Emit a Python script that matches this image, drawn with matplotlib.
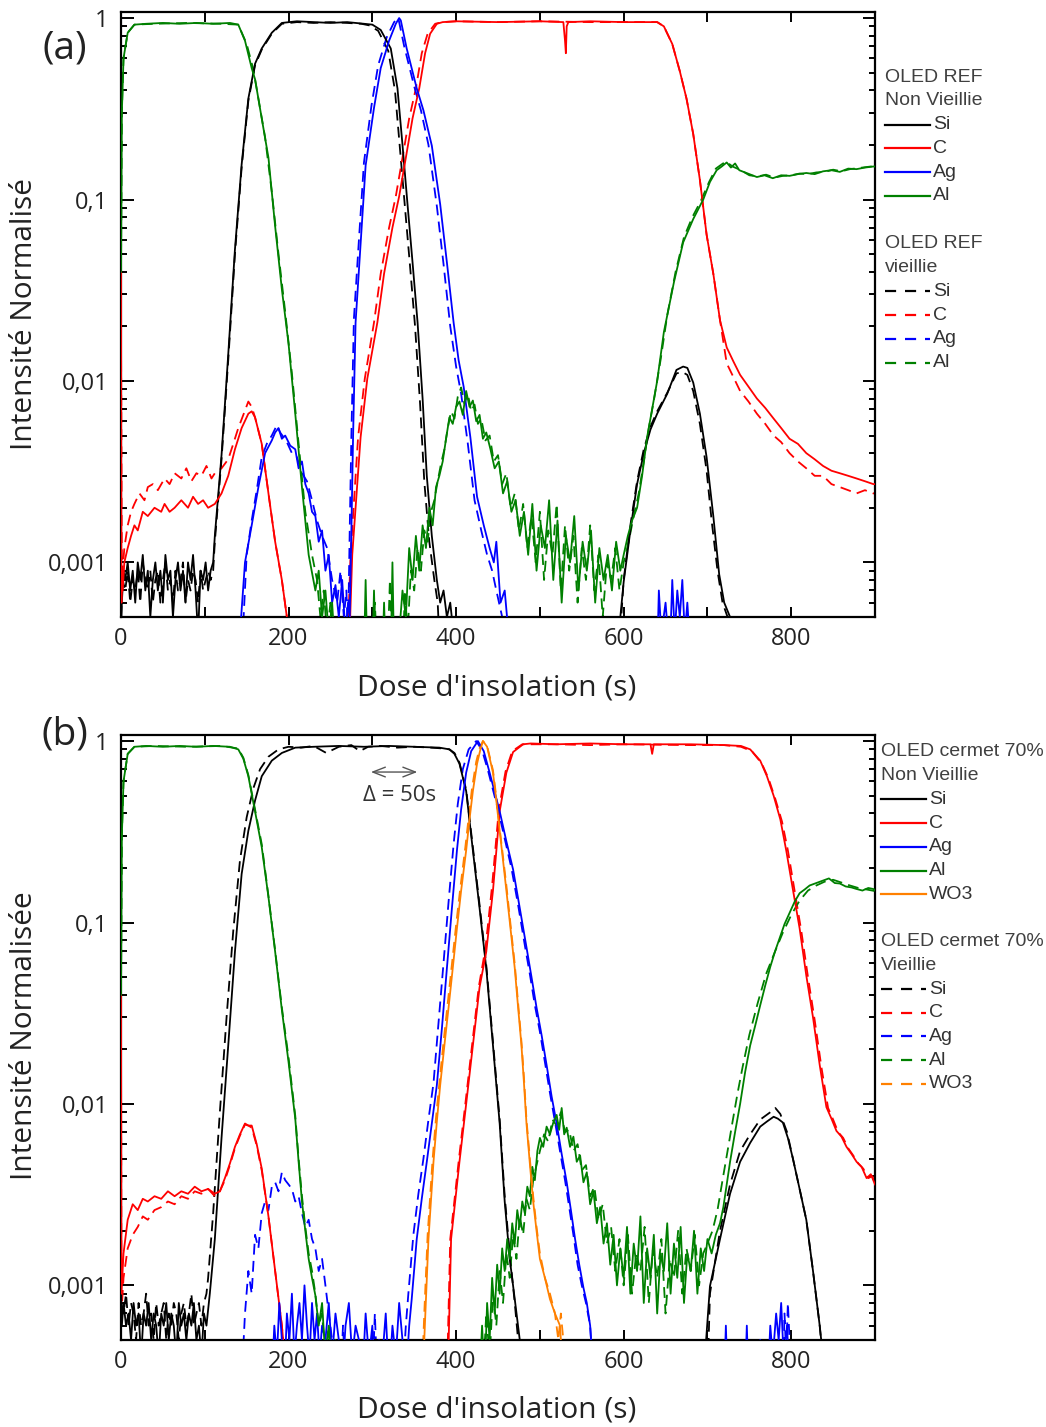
import matplotlib
matplotlib.use("Agg")
import matplotlib.pyplot as plt
from matplotlib.lines import Line2D
from matplotlib.ticker import FixedLocator, FixedFormatter, LogLocator, NullFormatter, MultipleLocator, FuncFormatter

# ---------------- Panel (a) : OLED REF ----------------
a_si_x = [0, 1, 3, 5, 8, 11, 14, 17, 20, 23, 26, 29, 32, 35, 38, 41, 44, 47, 50, 53, 56, 59, 62, 65, 68, 71, 74, 77, 80, 83, 86, 89, 92, 95, 98, 101, 104, 107, 110, 112, 120, 128, 136, 144, 152, 160, 168, 180, 192, 210, 230, 250, 270, 290, 300, 310, 322, 330, 336, 342, 348, 354, 360, 365, 371, 377, 381, 385, 389, 393, 397, 400,
          594, 600, 608, 616, 624, 632, 640, 652, 663, 671, 676, 683, 691, 699, 707, 714, 720, 727, 732, 900]
a_si_y = [0.0004, 0.0006, 0.0009, 0.0008, 0.0010, 0.0007, 0.0009, 0.0006, 0.0010, 0.0008, 0.0011, 0.0007, 0.0009, 0.0005, 0.0008, 0.0010, 0.0007, 0.0009, 0.0006, 0.0011, 0.0008, 0.0009, 0.0005, 0.0008, 0.0010, 0.0007, 0.0009, 0.0006, 0.0010, 0.0008, 0.0011, 0.0007, 0.0004, 0.0009, 0.0008, 0.0010, 0.0007, 0.0009, 0.0010, 0.0014, 0.0039, 0.014, 0.053, 0.156, 0.36, 0.56, 0.68, 0.83, 0.94, 0.96, 0.95, 0.94, 0.95, 0.93, 0.92, 0.86, 0.68, 0.41, 0.20, 0.094, 0.045, 0.021, 0.008, 0.003, 0.0014, 0.0008, 0.0006, 0.0007, 0.0005, 0.0006, 0.0004, 0.0003,
          0.0004, 0.00078, 0.0015, 0.0027, 0.004, 0.0054, 0.0066, 0.0085, 0.0115, 0.012, 0.0118, 0.0098, 0.0066, 0.0038, 0.0018, 0.00086, 0.0006, 0.0005, 0.0003, 0.0003]
a_si_d_x = [0, 2, 5, 8, 11, 14, 17, 20, 23, 26, 29, 32, 35, 38, 41, 44, 47, 50, 53, 56, 59, 62, 65, 68, 71, 74, 77, 80, 83, 86, 89, 92, 95, 98, 101, 104, 107, 110, 112, 120, 128, 136, 144, 152, 160, 168, 180, 192, 210, 230, 250, 270, 287, 297, 307, 319, 327, 333, 339, 345, 351, 357, 362, 368, 374, 378, 381,
            594, 600, 608, 616, 624, 632, 640, 652, 663, 670, 676, 683, 691, 699, 705, 712, 718, 724, 730, 900]
a_si_d_y = [0.0005, 0.0008, 0.0007, 0.0009, 0.0006, 0.0008, 0.0007, 0.0009, 0.0006, 0.0010, 0.0008, 0.0007, 0.0009, 0.0006, 0.0008, 0.0009, 0.0006, 0.0008, 0.0010, 0.0007, 0.0008, 0.0006, 0.0009, 0.0007, 0.0008, 0.0010, 0.0006, 0.0008, 0.0007, 0.0009, 0.0008, 0.0006, 0.0009, 0.0007, 0.0008, 0.0009, 0.0008, 0.0009, 0.0013, 0.0037, 0.013, 0.05, 0.15, 0.35, 0.55, 0.67, 0.82, 0.93, 0.95, 0.94, 0.95, 0.94, 0.93, 0.91, 0.85, 0.66, 0.40, 0.19, 0.09, 0.043, 0.020, 0.0075, 0.0028, 0.0013, 0.0008, 0.0006, 0.0003,
            0.0003, 0.0008, 0.0016, 0.0028, 0.0042, 0.0056, 0.0068, 0.0086, 0.011, 0.0112, 0.0108, 0.0088, 0.0058, 0.0032, 0.0017, 0.0009, 0.0006, 0.0005, 0.0003, 0.0003]

a_c_x = [0, 0.5, 1, 2, 4, 8, 12, 16, 20, 26, 32, 40, 48, 52, 58, 64, 72, 80, 86, 92, 98, 104, 112, 120, 128, 136, 144, 152, 156, 160, 168, 176, 184, 192, 198, 200,
         272, 276, 286, 294, 306, 314, 324, 332, 340, 348, 356, 363, 369, 377, 384, 400, 450, 500, 528, 530, 531, 532, 534, 560, 600, 640, 648, 658, 667, 675, 683, 691, 699, 707, 715, 723, 731, 739, 749, 759, 769, 779, 788, 798, 808, 818, 828, 838, 848, 858, 868, 878, 888, 898, 900]
a_c_y = [0.04, 0.0006, 0.0009, 0.0007, 0.0010, 0.0012, 0.0014, 0.0016, 0.0015, 0.0019, 0.0018, 0.0020, 0.0019, 0.0021, 0.0019, 0.0020, 0.0022, 0.0020, 0.0023, 0.0021, 0.0022, 0.0020, 0.0021, 0.0024, 0.0030, 0.0042, 0.0055, 0.0066, 0.0068, 0.0063, 0.0045, 0.0024, 0.0013, 0.0008, 0.0005, 0.0003,
         0.0003, 0.0011, 0.0049, 0.0103, 0.021, 0.039, 0.07, 0.104, 0.17, 0.28, 0.41, 0.64, 0.82, 0.93, 0.95, 0.96, 0.95, 0.96, 0.95, 0.75, 0.64, 0.90, 0.95, 0.96, 0.95, 0.95, 0.90, 0.72, 0.51, 0.36, 0.23, 0.128, 0.064, 0.039, 0.0216, 0.0153, 0.0128, 0.0108, 0.0093, 0.0080, 0.0071, 0.0062, 0.0055, 0.0048, 0.0045, 0.0040, 0.0037, 0.0034, 0.0032, 0.0031, 0.0030, 0.0029, 0.0028, 0.0027, 0.0027]
a_c_d_x = [0, 1, 4, 8, 12, 16, 22, 28, 32, 38, 44, 52, 58, 64, 72, 78, 84, 90, 96, 102, 108, 112, 120, 128, 134, 140, 146, 152, 156, 160, 168, 176, 184, 192, 198, 200,
           270, 274, 283, 291, 302, 310, 320, 328, 336, 344, 352, 359, 366, 375, 384, 400, 450, 500, 560, 600, 640, 648, 658, 667, 675, 683, 691, 699, 707, 715, 723, 731, 739, 749, 759, 769, 779, 788, 798, 808, 818, 828, 838, 848, 858, 868, 878, 888, 898, 900]
a_c_d_y = [0.02, 0.0008, 0.0012, 0.0016, 0.0019, 0.0021, 0.0024, 0.0022, 0.0026, 0.0027, 0.0025, 0.0029, 0.0027, 0.0031, 0.0029, 0.0033, 0.0028, 0.0031, 0.0030, 0.0034, 0.0029, 0.0031, 0.0033, 0.0037, 0.0045, 0.0055, 0.0065, 0.0077, 0.0072, 0.0063, 0.0045, 0.0024, 0.0013, 0.0008, 0.0005, 0.0003,
           0.0003, 0.0011, 0.0049, 0.0103, 0.021, 0.039, 0.07, 0.104, 0.17, 0.28, 0.41, 0.64, 0.82, 0.93, 0.95, 0.96, 0.95, 0.96, 0.95, 0.95, 0.95, 0.90, 0.72, 0.51, 0.36, 0.23, 0.128, 0.064, 0.039, 0.0216, 0.0125, 0.0105, 0.0088, 0.0077, 0.0066, 0.0058, 0.0050, 0.0046, 0.0040, 0.0036, 0.0033, 0.0030, 0.0030, 0.0027, 0.0026, 0.0025, 0.0024, 0.0025, 0.0024, 0.0024]

a_ag_x = [140, 148, 156, 164, 172, 180, 184, 188, 192, 196, 202, 208, 212, 216, 220, 224, 228, 232, 236, 240, 244, 248, 252, 256, 260, 264, 268, 271, 273, 275, 277, 280, 286, 292, 302, 310, 320, 328, 332, 334, 341, 353, 361, 371, 381, 389, 397, 403, 409, 417, 425, 433, 440, 445, 448, 453, 458, 465,
          640, 642, 645, 650, 655, 658, 661, 664, 667, 670, 673, 676, 680]
a_ag_y = [0.0003, 0.0010, 0.0016, 0.0026, 0.0040, 0.0047, 0.0052, 0.0055, 0.0048, 0.0050, 0.0044, 0.0042, 0.0033, 0.0036, 0.0027, 0.0024, 0.0019, 0.0018, 0.0013, 0.0015, 0.0009, 0.0011, 0.0006, 0.00075, 0.0005, 0.0008, 0.0004, 0.0006, 0.0005, 0.0015, 0.0049, 0.021, 0.057, 0.154, 0.32, 0.53, 0.75, 0.93, 1.0, 0.97, 0.68, 0.41, 0.31, 0.198, 0.094, 0.045, 0.021, 0.013, 0.0093, 0.0049, 0.0023, 0.0016, 0.0012, 0.0010, 0.0013, 0.0006, 0.0007, 0.0003,
          0.0003, 0.0007, 0.0004, 0.0006, 0.0003, 0.0008, 0.0004, 0.0007, 0.0005, 0.0008, 0.0004, 0.0006, 0.0003]
a_ag_d_x = [144, 150, 156, 162, 168, 174, 180, 186, 190, 194, 198, 204, 210, 216, 222, 228, 234, 240, 246, 252, 258, 262, 266, 269, 271, 273, 275, 278, 284, 290, 299, 307, 317, 326, 331, 338, 350, 358, 367, 377, 385, 393, 400, 406, 414, 422, 430, 437, 443, 448, 455, 462]
a_ag_d_y = [0.0003, 0.0011, 0.0017, 0.0025, 0.0038, 0.0045, 0.0050, 0.0057, 0.0052, 0.0049, 0.0046, 0.0040, 0.0038, 0.0031, 0.0028, 0.0022, 0.0017, 0.0014, 0.0012, 0.0008, 0.0006, 0.0009, 0.0005, 0.0007, 0.0004, 0.0015, 0.005, 0.022, 0.06, 0.16, 0.33, 0.55, 0.78, 0.95, 1.0, 0.70, 0.42, 0.31, 0.20, 0.092, 0.044, 0.020, 0.012, 0.0085, 0.0045, 0.0022, 0.0015, 0.0011, 0.0009, 0.0007, 0.0005, 0.0003]

a_al_x = [0, 1, 3, 8, 16, 30, 50, 70, 90, 110, 130, 140, 148, 156, 160, 168, 176, 184, 192, 200, 208, 216, 224, 232, 236, 240, 244, 248, 252, 256, 260,
          290, 292, 294, 300, 302, 304, 312, 314, 316, 322, 324, 326, 332, 336, 340, 344, 348, 352, 356, 360, 364, 368, 372, 376, 380, 384, 388, 392, 396, 400, 404, 408, 412, 416, 420, 424, 428, 432, 436, 441, 446, 451, 456, 461, 466, 471, 476, 481, 486, 491, 496, 501, 506, 511, 516, 521, 526, 531, 536, 541, 546, 551, 556, 561, 566, 571, 576, 581, 586, 591, 596,
          600, 605, 610, 616, 622, 628, 634, 640, 648, 660, 671, 683, 695, 703, 711, 717, 723, 728, 733, 738, 743, 750, 759, 768, 778, 788, 798, 808, 818, 828, 838, 848, 858, 868, 878, 888, 898, 900]
a_al_y = [0.04, 0.3, 0.6, 0.83, 0.92, 0.93, 0.94, 0.93, 0.94, 0.93, 0.94, 0.92, 0.75, 0.53, 0.46, 0.28, 0.17, 0.071, 0.032, 0.016, 0.0066, 0.0026, 0.0011, 0.0007, 0.0009, 0.0005, 0.0007, 0.0004, 0.0006, 0.0003, 0.0003,
          0.0003, 0.0008, 0.0003, 0.0003, 0.0007, 0.0003, 0.0003, 0.0006, 0.0003, 0.0003, 0.0010, 0.0003, 0.0004, 0.0007, 0.0005, 0.0012, 0.0008, 0.0014, 0.0009, 0.0016, 0.0012, 0.0020, 0.0016, 0.0026, 0.0030, 0.0036, 0.0048, 0.0063, 0.0058, 0.0072, 0.0077, 0.0065, 0.0088, 0.0072, 0.0078, 0.0060, 0.0065, 0.0048, 0.0052, 0.0042, 0.0033, 0.0036, 0.0024, 0.0028, 0.0019, 0.0022, 0.0014, 0.0019, 0.0011, 0.0021, 0.0009, 0.0016, 0.0012, 0.0022, 0.0008, 0.0017, 0.0006, 0.0014, 0.0010, 0.0018, 0.0007, 0.0013, 0.0009, 0.0015, 0.0006, 0.0012, 0.0008, 0.0011, 0.0007, 0.0013, 0.0009,
          0.0011, 0.0014, 0.0017, 0.0020, 0.0030, 0.0049, 0.0070, 0.010, 0.0186, 0.035, 0.058, 0.078, 0.10, 0.125, 0.145, 0.152, 0.16, 0.15, 0.158, 0.145, 0.142, 0.138, 0.133, 0.136, 0.131, 0.136, 0.135, 0.138, 0.140, 0.138, 0.143, 0.145, 0.142, 0.148, 0.147, 0.150, 0.152, 0.152]
a_al_d_x = [0, 1, 3, 8, 16, 40, 80, 120, 140, 150, 158, 164, 172, 180, 188, 196, 204, 212, 220, 228, 234, 238, 242, 246, 250, 254, 258, 262,
            300, 303, 306, 318, 321, 324, 336, 339, 342, 346, 350, 354, 358, 362, 366, 370, 374, 378, 382, 386, 390, 394, 398, 402, 406, 410, 414, 418, 422, 426, 430, 435, 440, 445, 450, 455, 460, 465, 470, 475, 480, 485, 490, 495, 500, 505, 510, 515, 520, 525, 530, 535, 540, 545, 550, 555, 560, 565, 570, 575, 580, 585, 590, 595,
            600, 606, 612, 618, 624, 630, 636, 644, 652, 662, 672, 682, 692, 702, 710, 716, 722, 730, 740, 750, 760, 770, 780, 790, 800, 810, 820, 830, 840, 850, 860, 870, 880, 890, 900]
a_al_d_y = [0.04, 0.3, 0.6, 0.83, 0.92, 0.93, 0.94, 0.93, 0.92, 0.72, 0.52, 0.36, 0.22, 0.11, 0.05, 0.024, 0.011, 0.0045, 0.0019, 0.0011, 0.0008, 0.0005, 0.0007, 0.0004, 0.0006, 0.0003, 0.0005, 0.0003,
            0.0003, 0.0006, 0.0003, 0.0003, 0.0008, 0.0003, 0.0003, 0.0007, 0.0004, 0.0009, 0.0007, 0.0012, 0.0009, 0.0015, 0.0013, 0.0019, 0.0022, 0.0028, 0.0035, 0.0042, 0.0055, 0.0068, 0.0062, 0.0082, 0.0092, 0.0075, 0.0085, 0.0068, 0.0074, 0.0058, 0.0062, 0.0047, 0.0050, 0.0036, 0.0039, 0.0027, 0.0031, 0.0020, 0.0024, 0.0015, 0.0021, 0.0012, 0.0018, 0.0010, 0.0019, 0.0008, 0.0015, 0.0011, 0.0021, 0.0007, 0.0016, 0.0009, 0.0014, 0.0006, 0.0012, 0.0008, 0.0016, 0.0007, 0.0011, 0.0005, 0.0010, 0.0008, 0.0012, 0.0007,
            0.0010, 0.0013, 0.0018, 0.0024, 0.0036, 0.0055, 0.0078, 0.013, 0.023, 0.040, 0.062, 0.080, 0.098, 0.125, 0.148, 0.155, 0.162, 0.152, 0.145, 0.136, 0.134, 0.137, 0.132, 0.135, 0.136, 0.139, 0.138, 0.141, 0.142, 0.146, 0.143, 0.147, 0.149, 0.151, 0.153]

# ---------------- Panel (b) : OLED cermet 70% ----------------
b_si_x = [0, 1, 3, 6, 9, 12, 15, 18, 21, 24, 27, 30, 33, 36, 39, 42, 45, 48, 51, 54, 57, 60, 63, 66, 69, 72, 75, 78, 81, 84, 87, 90, 93, 96, 99, 102, 106, 112, 120, 128, 136, 144, 152, 160, 168, 180, 192, 208, 230, 260, 290, 320, 350, 380, 392, 398, 404, 412, 420, 428, 436, 444, 452, 458, 464, 470, 476, 480,
          695, 703, 715, 727, 739, 751, 763, 771, 779, 784, 790, 796, 802, 810, 818, 826, 834, 838, 900]
b_si_y = [0.0009, 0.0006, 0.0008, 0.0006, 0.0007, 0.0005, 0.0008, 0.0006, 0.0007, 0.0004, 0.0007, 0.0006, 0.0008, 0.0005, 0.0007, 0.0006, 0.0004, 0.0007, 0.0006, 0.0008, 0.0005, 0.0007, 0.0006, 0.0004, 0.0008, 0.0006, 0.0007, 0.0005, 0.0007, 0.0006, 0.0008, 0.0005, 0.0006, 0.0004, 0.0007, 0.0006, 0.0009, 0.0018, 0.0065, 0.021, 0.069, 0.185, 0.32, 0.47, 0.64, 0.78, 0.86, 0.92, 0.93, 0.94, 0.93, 0.94, 0.93, 0.92, 0.90, 0.85, 0.75, 0.53, 0.25, 0.12, 0.056, 0.021, 0.0078, 0.0029, 0.0014, 0.00084, 0.0005, 0.0003,
          0.0003, 0.00099, 0.0018, 0.0032, 0.0048, 0.0061, 0.0075, 0.0080, 0.0085, 0.0083, 0.0079, 0.0065, 0.0050, 0.0034, 0.0023, 0.0012, 0.0006, 0.0004, 0.0003]
b_si_d_x = [0, 3, 6, 9, 12, 15, 18, 21, 24, 27, 30, 33, 36, 39, 42, 45, 48, 51, 54, 57, 60, 63, 66, 69, 72, 75, 78, 81, 84, 87, 90, 93, 96, 99, 102, 104, 110, 118, 126, 134, 142, 150, 158, 166, 176, 188, 200, 215, 230, 245, 260, 275, 285, 295, 310, 330, 350, 370, 385, 392, 398, 404, 412, 420, 428, 436, 444, 452, 458, 464, 470, 474, 478,
            700, 703, 715, 727, 739, 751, 763, 775, 781, 787, 795, 802, 810, 818, 826, 834, 840, 900]
b_si_d_y = [0.0008, 0.0007, 0.0009, 0.0006, 0.0008, 0.0007, 0.0005, 0.0008, 0.0006, 0.0007, 0.0009, 0.0006, 0.0007, 0.0005, 0.0008, 0.0006, 0.0007, 0.0008, 0.0005, 0.0007, 0.0006, 0.0008, 0.0007, 0.0005, 0.0007, 0.0008, 0.0006, 0.0007, 0.0009, 0.0006, 0.0007, 0.0008, 0.0006, 0.0008, 0.0009, 0.0011, 0.0025, 0.009, 0.03, 0.09, 0.22, 0.38, 0.55, 0.70, 0.82, 0.90, 0.93, 0.92, 0.94, 0.86, 0.93, 0.95, 0.88, 0.93, 0.94, 0.92, 0.93, 0.92, 0.91, 0.90, 0.86, 0.76, 0.54, 0.26, 0.125, 0.058, 0.022, 0.0082, 0.0031, 0.0015, 0.0008, 0.0005, 0.0003,
            0.0003, 0.0009, 0.0020, 0.0036, 0.0055, 0.0068, 0.0082, 0.0090, 0.0095, 0.0088, 0.0070, 0.0050, 0.0034, 0.0023, 0.0012, 0.0006, 0.0003, 0.0003]

b_c_x = [0, 0.5, 3, 8, 14, 20, 26, 32, 40, 48, 56, 64, 72, 80, 88, 96, 104, 112, 118, 124, 130, 136, 142, 148, 152, 156, 162, 168, 176, 184, 192, 198,
         390, 394, 404, 412, 420, 428, 436, 444, 452, 460, 468, 480, 489, 520, 560, 600, 632, 634, 636, 680, 720, 740, 751, 763, 771, 779, 787, 794, 802, 810, 818, 826, 834, 842, 848, 854, 860, 866, 872, 878, 884, 890, 895, 900]
b_c_y = [0.04, 0.0009, 0.0015, 0.0023, 0.0028, 0.0026, 0.0030, 0.0029, 0.0031, 0.0030, 0.0033, 0.0031, 0.0033, 0.0032, 0.0035, 0.0033, 0.0034, 0.0032, 0.0033, 0.0039, 0.0047, 0.0058, 0.0068, 0.0078, 0.0076, 0.0076, 0.0060, 0.0044, 0.0024, 0.0012, 0.0006, 0.0003,
         0.0003, 0.0018, 0.0048, 0.010, 0.021, 0.044, 0.069, 0.15, 0.41, 0.67, 0.87, 0.96, 0.97, 0.96, 0.97, 0.96, 0.96, 0.85, 0.96, 0.96, 0.95, 0.94, 0.90, 0.78, 0.64, 0.50, 0.37, 0.25, 0.152, 0.093, 0.051, 0.030, 0.0164, 0.0096, 0.0083, 0.0071, 0.0066, 0.0058, 0.0053, 0.0048, 0.0045, 0.0039, 0.0041, 0.0036]
b_c_d_x = [0, 0.5, 3, 8, 14, 20, 26, 32, 40, 48, 56, 64, 72, 80, 88, 96, 104, 112, 118, 124, 130, 136, 142, 148, 152, 156, 162, 168, 176, 184, 192, 198,
           389, 393, 403, 411, 419, 427, 435, 443, 451, 459, 467, 479, 489, 520, 560, 600, 680, 720, 740, 753, 765, 773, 781, 789, 796, 804, 812, 820, 828, 836, 844, 850, 856, 862, 868, 874, 880, 886, 892, 897, 900]
b_c_d_y = [0.03, 0.0007, 0.0011, 0.0016, 0.0019, 0.0021, 0.0024, 0.0023, 0.0026, 0.0027, 0.0029, 0.0028, 0.0031, 0.0030, 0.0033, 0.0032, 0.0034, 0.0031, 0.0033, 0.0038, 0.0046, 0.0057, 0.0067, 0.0077, 0.0076, 0.0074, 0.0059, 0.0043, 0.0024, 0.0012, 0.0006, 0.0003,
           0.0003, 0.0018, 0.0048, 0.010, 0.021, 0.044, 0.072, 0.16, 0.42, 0.68, 0.88, 0.96, 0.96, 0.96, 0.95, 0.96, 0.95, 0.95, 0.93, 0.88, 0.75, 0.62, 0.48, 0.36, 0.25, 0.15, 0.09, 0.05, 0.029, 0.016, 0.0095, 0.0082, 0.0070, 0.0065, 0.0057, 0.0052, 0.0047, 0.0044, 0.0039, 0.0040, 0.0036]

b_ag_x = [180, 183, 186, 189, 192, 195, 198, 201, 204, 207, 210, 213, 216, 219, 222, 225, 228, 231, 234, 237, 240, 244, 248, 252, 256, 260, 264, 268, 272, 276, 280, 284, 288, 292, 296, 300, 304, 308, 312, 316, 320, 324, 328, 332, 336, 340,
          344, 347, 353, 359, 365, 371, 377, 383, 389, 395, 401, 406, 412, 418, 426, 433, 440, 452, 460, 468, 476, 484, 490, 496, 502, 508, 514, 520, 526, 532, 537, 542, 547, 552, 556, 560, 564,
          720, 722, 724, 745, 747, 749, 760, 763, 766, 772, 775, 778, 782, 785, 788, 791, 795, 798]
b_ag_y = [0.0003, 0.0006, 0.0004, 0.0008, 0.0005, 0.0003, 0.0007, 0.0005, 0.0009, 0.0004, 0.0006, 0.0008, 0.0005, 0.0010, 0.0006, 0.0004, 0.0008, 0.0005, 0.0007, 0.0004, 0.0006, 0.0005, 0.0008, 0.0004, 0.0007, 0.0005, 0.0003, 0.0006, 0.0008, 0.0004, 0.0006, 0.0005, 0.0003, 0.0007, 0.0004, 0.0006, 0.0003, 0.0005, 0.0004, 0.0007, 0.0003, 0.0006, 0.0004, 0.0008, 0.0005, 0.0003,
          0.0006, 0.00084, 0.0018, 0.0030, 0.0048, 0.0078, 0.0127, 0.026, 0.056, 0.12, 0.25, 0.42, 0.67, 0.88, 1.0, 0.88, 0.67, 0.41, 0.28, 0.196, 0.12, 0.073, 0.05, 0.034, 0.024, 0.0164, 0.011, 0.0078, 0.0053, 0.0037, 0.0026, 0.0018, 0.0013, 0.00097, 0.0008, 0.0006, 0.0003,
          0.0003, 0.0006, 0.0003, 0.0003, 0.0006, 0.0003, 0.0003, 0.0005, 0.0003, 0.0003, 0.0006, 0.0004, 0.0007, 0.0005, 0.0008, 0.0004, 0.0006, 0.0003]
b_ag_d_x = [144, 148, 152, 156, 160, 164, 168, 172, 176, 180, 184, 188, 192, 196, 200, 204, 208, 212, 216, 220, 224, 228, 232, 236, 240, 244, 248, 252, 256, 262, 265, 268, 280, 283, 286, 300, 303, 306, 320, 323, 326, 336,
            340, 343, 349, 355, 361, 367, 373, 379, 385, 391, 397, 402, 408, 415, 424, 431, 438, 450, 458, 466, 474, 482, 488, 494, 500, 506, 512, 518, 524, 530, 535, 540, 545, 550, 555, 560, 564,
            790, 792, 794, 796, 798, 800]
b_ag_d_y = [0.0003, 0.0007, 0.0012, 0.0009, 0.0019, 0.0016, 0.0025, 0.0029, 0.0026, 0.0035, 0.0037, 0.0033, 0.0042, 0.0038, 0.0036, 0.0034, 0.0029, 0.0031, 0.0025, 0.0021, 0.0023, 0.0018, 0.0016, 0.0012, 0.0014, 0.0010, 0.0007, 0.0005, 0.0003, 0.0003, 0.0006, 0.0003, 0.0003, 0.0005, 0.0003, 0.0003, 0.0007, 0.0003, 0.0003, 0.0005, 0.0003, 0.0003,
            0.0006, 0.0009, 0.0019, 0.0032, 0.0050, 0.0082, 0.013, 0.028, 0.06, 0.13, 0.27, 0.45, 0.70, 0.90, 1.0, 0.89, 0.69, 0.42, 0.29, 0.20, 0.125, 0.075, 0.052, 0.035, 0.025, 0.017, 0.0115, 0.008, 0.0055, 0.0038, 0.0027, 0.0019, 0.0013, 0.001, 0.0008, 0.0006, 0.0003,
            0.0003, 0.0007, 0.0004, 0.0008, 0.0005, 0.0003]

b_al_x = [0, 1, 3, 8, 16, 30, 50, 70, 90, 110, 130, 140, 146, 152, 160, 168, 176, 184, 192, 200, 208, 212, 216, 220, 224, 228, 232, 236, 240, 244, 248, 252, 256, 260,
          428, 431, 434, 437, 440, 443, 446, 449, 452, 455, 458, 461, 464, 467, 470, 473, 476, 479, 482, 485, 488, 491, 494, 497, 500, 504, 508, 512, 516, 520, 523, 526, 529, 532, 536, 540, 544, 548, 552, 556, 560, 564, 568, 572, 576, 580, 584, 588, 592, 596, 600, 604, 608, 612, 616, 620, 624, 628, 632, 636, 640, 644, 648, 652, 656, 660, 664, 668, 672, 676, 680, 684, 688, 692, 696, 700, 705, 710, 715, 719, 723, 727, 733, 739, 745, 751, 757, 763, 769, 775, 781, 787, 792, 798, 804, 810, 816, 822, 830, 838, 845, 852, 858, 865, 872, 878, 885, 892, 898, 900]
b_al_y = [0.04, 0.3, 0.6, 0.85, 0.93, 0.94, 0.93, 0.94, 0.93, 0.94, 0.93, 0.90, 0.80, 0.64, 0.41, 0.26, 0.138, 0.069, 0.033, 0.017, 0.0083, 0.0048, 0.0029, 0.0020, 0.0014, 0.0011, 0.00088, 0.0006, 0.0008, 0.0004, 0.0006, 0.0003, 0.0005, 0.0003,
          0.0003, 0.0006, 0.0003, 0.0008, 0.0005, 0.0011, 0.0007, 0.0013, 0.0009, 0.0016, 0.0012, 0.0018, 0.0014, 0.0022, 0.0017, 0.0026, 0.0021, 0.0029, 0.0025, 0.0035, 0.0031, 0.0045, 0.0038, 0.0055, 0.0065, 0.0058, 0.0075, 0.0068, 0.0079, 0.0087, 0.0072, 0.0095, 0.0068, 0.0074, 0.0058, 0.0066, 0.0048, 0.0052, 0.0037, 0.0042, 0.0028, 0.0033, 0.0022, 0.0027, 0.0017, 0.0022, 0.0013, 0.0019, 0.0010, 0.0016, 0.0011, 0.0021, 0.0009, 0.0017, 0.0012, 0.0024, 0.0008, 0.0016, 0.0011, 0.0019, 0.0007, 0.0015, 0.0012, 0.0022, 0.0009, 0.0017, 0.0011, 0.0021, 0.0008, 0.0015, 0.0012, 0.0020, 0.0009, 0.0016, 0.0012, 0.0018, 0.0015, 0.0019, 0.0022, 0.0027, 0.0036, 0.0048, 0.0070, 0.010, 0.015, 0.021, 0.027, 0.035, 0.045, 0.057, 0.070, 0.084, 0.098, 0.113, 0.130, 0.145, 0.152, 0.160, 0.165, 0.170, 0.175, 0.165, 0.164, 0.158, 0.156, 0.153, 0.150, 0.155, 0.153, 0.150]
b_al_d_x = [0, 1, 3, 8, 16, 40, 80, 120, 140, 146, 152, 160, 168, 176, 184, 192, 200, 208, 212, 216, 220, 224, 228, 232, 236, 240, 244, 248, 252, 256,
            432, 436, 440, 444, 448, 452, 456, 460, 464, 468, 472, 476, 480, 484, 488, 492, 496, 500, 505, 510, 515, 520, 525, 530, 535, 540, 545, 550, 555, 560, 565, 570, 575, 580, 585, 590, 595, 600, 605, 610, 615, 620, 625, 630, 635, 640, 645, 650, 655, 660, 665, 670, 675, 680, 685, 690, 695, 700, 706, 712, 718, 724, 730, 736, 742, 750, 760, 770, 780, 790, 800, 810, 820, 830, 840, 850, 860, 870, 880, 890, 900]
b_al_d_y = [0.04, 0.3, 0.6, 0.85, 0.93, 0.94, 0.93, 0.94, 0.91, 0.81, 0.65, 0.42, 0.27, 0.14, 0.07, 0.034, 0.018, 0.0086, 0.005, 0.0031, 0.0021, 0.0015, 0.0012, 0.0009, 0.0006, 0.0007, 0.0004, 0.0006, 0.0003, 0.0003,
            0.0003, 0.0007, 0.0004, 0.0009, 0.0006, 0.0012, 0.0008, 0.0015, 0.0011, 0.0019, 0.0014, 0.0024, 0.0019, 0.0030, 0.0026, 0.0038, 0.0046, 0.0055, 0.0068, 0.0062, 0.0082, 0.0076, 0.0090, 0.0070, 0.0072, 0.0055, 0.0060, 0.0043, 0.0046, 0.0031, 0.0035, 0.0023, 0.0028, 0.0017, 0.0021, 0.0012, 0.0018, 0.0010, 0.0019, 0.0009, 0.0015, 0.0012, 0.0021, 0.0008, 0.0016, 0.0011, 0.0018, 0.0007, 0.0014, 0.0011, 0.0020, 0.0009, 0.0016, 0.0012, 0.0019, 0.0010, 0.0015, 0.0017, 0.0020, 0.0026, 0.0038, 0.0055, 0.0080, 0.0115, 0.016, 0.024, 0.036, 0.052, 0.068, 0.088, 0.110, 0.132, 0.150, 0.160, 0.168, 0.172, 0.166, 0.160, 0.155, 0.152, 0.149]

b_wo3_x = [360, 363, 367, 373, 377, 381, 386, 391, 396, 401, 406, 412, 416, 420, 425, 429, 432, 437, 444, 448, 452, 456, 460, 465, 470, 474, 478, 481, 484, 488, 492, 496, 500, 506, 512, 518, 524, 528]
b_wo3_y = [0.0003, 0.00065, 0.0018, 0.0048, 0.0080, 0.0127, 0.021, 0.034, 0.056, 0.093, 0.15, 0.25, 0.37, 0.53, 0.75, 0.90, 1.0, 0.93, 0.67, 0.47, 0.32, 0.22, 0.15, 0.092, 0.056, 0.034, 0.021, 0.013, 0.0078, 0.0047, 0.0029, 0.0020, 0.0014, 0.0011, 0.00084, 0.0007, 0.0006, 0.0003]
b_wo3_d_x = [359, 362, 366, 372, 376, 380, 385, 390, 395, 400, 405, 411, 415, 419, 424, 428, 432, 437, 444, 448, 452, 456, 460, 465, 470, 474, 478, 481, 484, 488, 492, 496, 500, 506, 512, 518, 522, 525, 528, 532]
b_wo3_d_y = [0.0003, 0.0007, 0.0019, 0.0050, 0.0084, 0.013, 0.022, 0.036, 0.059, 0.097, 0.155, 0.26, 0.38, 0.55, 0.77, 0.91, 1.0, 0.94, 0.69, 0.49, 0.33, 0.23, 0.16, 0.097, 0.059, 0.036, 0.022, 0.014, 0.0082, 0.005, 0.0031, 0.0021, 0.0015, 0.0011, 0.0009, 0.0007, 0.0005, 0.0007, 0.0005, 0.0003]

# ---------------- text ----------------
y_tick_vals = [0.001, 0.01, 0.1, 1]
y_tick_labels = ["0,001", "0,01", "0,1", "1"]
x_label = "Dose d'insolation (s)"
y_label_a = "Intensité Normalisé"
y_label_b = "Intensité Normalisée"
elements_a = ["Si", "C", "Ag", "Al"]
elements_b = ["Si", "C", "Ag", "Al", "WO3"]
colors = {"Si": "black", "C": "#ff0000", "Ag": "#0000ff", "Al": "#008000", "WO3": "#ff8000"}
legend_a_headers = [["OLED REF", "Non Vieillie"], ["OLED REF", "vieillie"]]
legend_b_headers = [["OLED cermet 70%", "Non Vieillie"], ["OLED cermet 70%", "Vieillie"]]

# ---------------- drawing ----------------
W, H = 1046, 1427
fig = plt.figure(figsize=(W / 100, H / 100), dpi=100)

def fx(px):
    return px / W

def fy(py):
    return 1 - py / H

TICKFONT = "Open Sans"
LW = 1.3
DASH = (0, (6, 3.5))

ax_a = fig.add_axes([fx(121), fy(617), fx(875) - fx(121), fy(12) - fy(617)])
ax_b = fig.add_axes([fx(121), fy(1340), fx(875) - fx(121), fy(735) - fy(1340)])

series_a = {
    "Si": (a_si_x, a_si_y, a_si_d_x, a_si_d_y),
    "C": (a_c_x, a_c_y, a_c_d_x, a_c_d_y),
    "Ag": (a_ag_x, a_ag_y, a_ag_d_x, a_ag_d_y),
    "Al": (a_al_x, a_al_y, a_al_d_x, a_al_d_y),
}
series_b = {
    "Si": (b_si_x, b_si_y, b_si_d_x, b_si_d_y),
    "C": (b_c_x, b_c_y, b_c_d_x, b_c_d_y),
    "Ag": (b_ag_x, b_ag_y, b_ag_d_x, b_ag_d_y),
    "Al": (b_al_x, b_al_y, b_al_d_x, b_al_d_y),
    "WO3": (b_wo3_x, b_wo3_y, b_wo3_d_x, b_wo3_d_y),
}

for ax, series in ((ax_a, series_a), (ax_b, series_b)):
    for el, (sx, sy, dx, dy) in series.items():
        ax.plot(dx, dy, color=colors[el], lw=LW, linestyle=DASH, zorder=2)
    for el, (sx, sy, dx, dy) in series.items():
        ax.plot(sx, sy, color=colors[el], lw=LW, zorder=3)
    ax.set_yscale("log")
    ax.set_xlim(0, 900)
    ax.set_ylim(5e-4, 1.08)
    ax.yaxis.set_major_locator(FixedLocator(y_tick_vals))
    ax.yaxis.set_major_formatter(FixedFormatter(y_tick_labels))
    ax.yaxis.set_minor_locator(LogLocator(base=10, subs=[2, 3, 4, 5, 6, 7, 8, 9], numticks=20))
    ax.yaxis.set_minor_formatter(NullFormatter())
    ax.xaxis.set_major_locator(MultipleLocator(100))
    ax.xaxis.set_major_formatter(FuncFormatter(lambda v, p: f"{int(round(v))}" if int(round(v)) % 200 == 0 else ""))
    ax.tick_params(axis="both", which="both", direction="in", top=True, right=True, width=1.4, colors="black")
    ax.tick_params(axis="y", which="major", length=9, pad=9)
    ax.tick_params(axis="y", which="minor", length=4.5)
    ax.tick_params(axis="x", which="major", length=7, pad=7)
    for sp in ax.spines.values():
        sp.set_linewidth(1.6)
    for lab in ax.get_xticklabels() + ax.get_yticklabels():
        lab.set_fontfamily(TICKFONT)
        lab.set_fontsize(17)
        lab.set_color("#222222")

# axis labels
fig.text(fx(497), fy(688), x_label, ha="center", va="center", fontsize=21.5, family=TICKFONT, color="#222222")
fig.text(fx(497), fy(1410), x_label, ha="center", va="center", fontsize=21.5, family=TICKFONT, color="#222222")
fig.text(fx(25), fy(314), y_label_a, ha="center", va="center", rotation=90, fontsize=21.5, family=TICKFONT, color="#222222")
fig.text(fx(25), fy(1036), y_label_b, ha="center", va="center", rotation=90, fontsize=21.5, family=TICKFONT, color="#222222")
fig.text(fx(65), fy(48), "(a)", ha="center", va="center", fontsize=28, family=TICKFONT, color="#222222")
fig.text(fx(65), fy(735), "(b)", ha="center", va="center", fontsize=28, family=TICKFONT, color="#222222")

# annotation in panel b
ax_b.annotate("", xy=(295, 0.675), xytext=(357, 0.675), xycoords="data",
              arrowprops=dict(arrowstyle="<->,head_length=0.9,head_width=0.35", color="#555555", lw=1.0))
ax_b.text(333, 0.50, "Δ = 50s", ha="center", va="center", fontsize=16, family=TICKFONT, color="#333333")

# manual legends
LEGFONT = "Liberation Sans"

def legend_block(x0, header_rows, elements, first_y, step):
    y = first_y
    for h in header_rows[0]:
        fig.text(fx(x0), fy(y), h, ha="left", va="center", fontsize=14, family=LEGFONT, color="#404040")
        y += step
    for el in elements:
        fig.add_artist(Line2D([fx(x0), fx(x0 + 45)], [fy(y), fy(y)], color=colors[el], lw=1.6))
        fig.text(fx(x0 + 48), fy(y), el, ha="left", va="center", fontsize=14, family=LEGFONT, color="#333333")
        y += step
    y += step
    for h in header_rows[1]:
        fig.text(fx(x0), fy(y), h, ha="left", va="center", fontsize=14, family=LEGFONT, color="#404040")
        y += step
    for el in elements:
        fig.add_artist(Line2D([fx(x0), fx(x0 + 45)], [fy(y), fy(y)], color=colors[el], lw=1.6, linestyle=(0, (5, 4))))
        fig.text(fx(x0 + 48), fy(y), el, ha="left", va="center", fontsize=14, family=LEGFONT, color="#333333")
        y += step

legend_block(885, legend_a_headers, elements_a, 77, 23.8)
legend_block(881, legend_b_headers, elements_b, 752, 23.7)

fig.savefig("out.png", dpi=100)
